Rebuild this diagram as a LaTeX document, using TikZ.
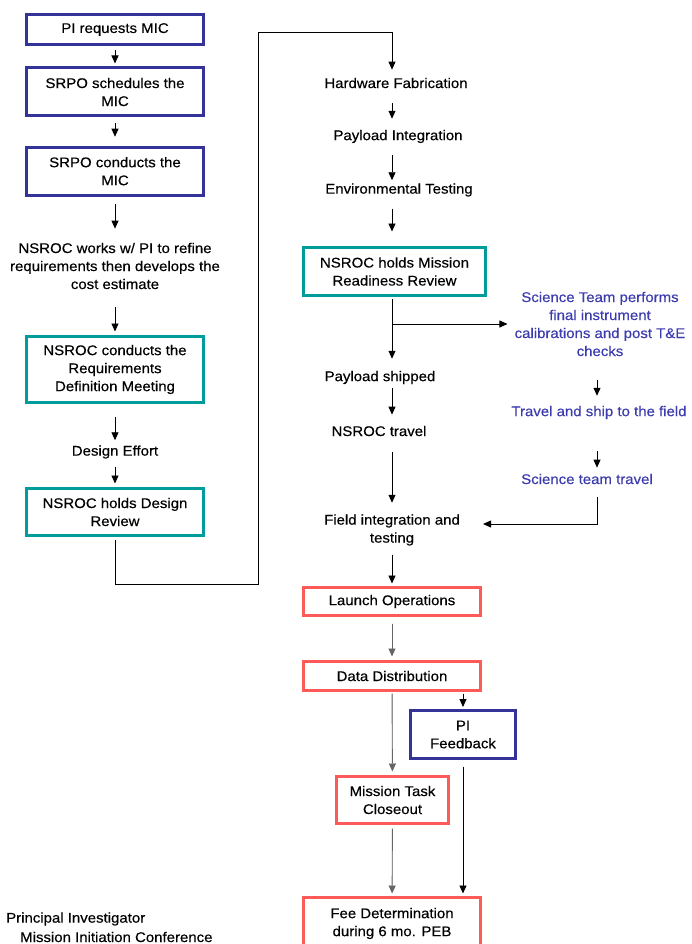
\documentclass[tikz,border=0pt]{standalone}
\usepackage{fontspec}
\setmainfont[FakeStretch=1.07,FakeBold=0.35]{Liberation Sans}
\usetikzlibrary{arrows.meta}
\definecolor{misblue}{RGB}{51,51,153}
\definecolor{misteal}{RGB}{0,155,155}
\definecolor{misred}{RGB}{255,90,90}
\definecolor{scitext}{RGB}{60,60,175}

\begin{document}
\begin{tikzpicture}[x=1pt,y=-1pt,
	every node/.style={font=\fontsize{14pt}{18pt}\selectfont,align=center,inner sep=0pt},
	box/.style={draw,line width=3pt,minimum width=177pt},
	pibox/.style={box,draw=misblue},
	nsrocbox/.style={box,draw=misteal},
	opsbox/.style={box,draw=misred},
	sci/.style={text=scitext},
	arr/.style={-{Triangle[width=7pt,length=8pt]},line width=0.9pt},
	grayarr/.style={arr,draw=black!60,fill=black}]
	\useasboundingbox (0,0) rectangle (691,944);

	%Left column
	\node[pibox,minimum height=30pt] (req) at (115,29.5) {PI requests MIC};
	\node[pibox,minimum height=48pt] (sched) at (115,92) {SRPO schedules the\\MIC};
	\node[pibox,minimum height=48pt] (cond) at (115,171.2) {SRPO conducts the\\MIC};
	\node (works) at (115,266) {NSROC works w/ PI to refine\\requirements then develops the\\cost estimate};
	\node[nsrocbox,minimum height=66pt] (rdm) at (115,369.5) {NSROC conducts the\\Requirements\\Definition Meeting};
	\node (design) at (115,452) {Design Effort};
	\node[nsrocbox,minimum height=47pt] (dr) at (115,512) {NSROC holds Design\\Review};

	%Middle column
	\coordinate (spine) at (392,0);
	\node (hw) at (396,83) {Hardware Fabrication};
	\node (pint) at (398,136.5) {Payload Integration};
	\node (env) at (399,190) {Environmental Testing};
	\node[nsrocbox,minimum width=182pt,minimum height=48pt] (mrr) at (394.5,271.5) {NSROC holds Mission\\Readiness Review};
	\node (ship) at (380,377.5) {Payload shipped};
	\node (trav) at (379,431) {NSROC travel};
	\node (field) at (392,530) {Field integration and\\testing};
	\node[opsbox,minimum height=28pt] (launch) at (392,601.5) {Launch Operations};
	\node[opsbox,minimum height=29pt] (data) at (392,676) {Data Distribution};
	\node[pibox,minimum width=105pt,minimum height=48pt] (pif) at (463,734.5) {PI\\Feedback};
	\node[opsbox,minimum width=112pt,minimum height=47pt] (mtc) at (392.5,800) {Mission Task\\Closeout};
	\node[opsbox,minimum height=52pt] (fee) at (392,923.5) {Fee Determination\\during 6 mo. PEB};

	%Science team
	\coordinate (scispine) at (597,0);
	\node[sci] (cal) at (600,324) {Science Team performs\\final instrument\\calibrations and post T\&E\\checks};
	\node[sci] (tship) at (599,412.5) {Travel and ship to the field};
	\node[sci] (sctr) at (587,479) {Science team travel};

	%Legend
	\node[anchor=west] (pileg) at (6,919) {Principal Investigator};
	\node[anchor=west] (micleg) at (20,937) {Mission Initiation Conference};

	%Arrows
	\draw[arr,shorten <=4.5pt,shorten >=3pt] (req) -- (sched);
	\draw[arr,shorten <=6pt,shorten >=9pt] (sched) -- (cond);
	\draw[arr,shorten <=7pt,shorten >=14pt] (cond) -- (works);
	\draw[arr,shorten <=18pt,shorten >=3.5pt] (works) -- (rdm);
	\draw[arr,shorten <=12.5pt,shorten >=5pt] (rdm) -- (design);
	\draw[arr,shorten <=8pt,shorten >=3.5pt] (design) -- (dr);
	\coordinate (loopa) at (258,584);
	\coordinate (loopb) at (258,32);
	\draw[arr,shorten <=3pt,shorten >=8pt] (dr.south) |- (loopa) -- (loopb) -| (hw.north -| spine);
	\draw[arr,shorten <=15pt,shorten >=11pt] (hw.south -| spine) -- (pint.north -| spine);
	\draw[arr,shorten <=12pt,shorten >=3pt] (pint.south -| spine) -- (env.north -| spine);
	\draw[arr,shorten <=12pt,shorten >=14.5pt] (env.south -| spine) -- (mrr.north -| spine);
	\draw[arr,shorten <=2pt,shorten >=12pt] (mrr.south -| spine) -- (ship.north -| spine);
	\draw[arr,shorten >=7pt] (spine |- cal.west) -- (cal.west);
	\draw[arr,shorten <=4pt,shorten >=11pt] (ship.south -| spine) -- (trav.north -| spine);
	\draw[arr,shorten <=15.5pt,shorten >=11.5pt] (trav.south -| spine) -- (field.north -| spine);
	\draw[arr,shorten <=9pt,shorten >=2.5pt] (field) -- (launch);
	\draw[grayarr,shorten <=6.5pt,shorten >=3.5pt] (launch) -- (data);
	\draw[grayarr,shorten <=1.5pt,shorten >=3.5pt] (data) -- (mtc);
	\draw[arr,shorten <=1.5pt,shorten >=2pt] (data.south -| pif.north) -- (pif.north);
	\draw[grayarr,shorten <=3.5pt,shorten >=2.5pt] (mtc) -- (fee);
	\draw[arr,shorten <=6.5pt,shorten >=2.5pt] (pif.south) -- (pif.south |- fee.north);
	\draw[arr,shorten <=24pt,shorten >=10pt] (cal.south -| scispine) -- (tship.north -| scispine);
	\draw[arr,shorten <=32pt,shorten >=6pt] (tship.south -| scispine) -- (sctr.north -| scispine);
	\draw[arr,shorten <=12.5pt,shorten >=23pt] (sctr.south -| scispine) |- ([yshift=6pt]field.east);
\end{tikzpicture}
\end{document}
